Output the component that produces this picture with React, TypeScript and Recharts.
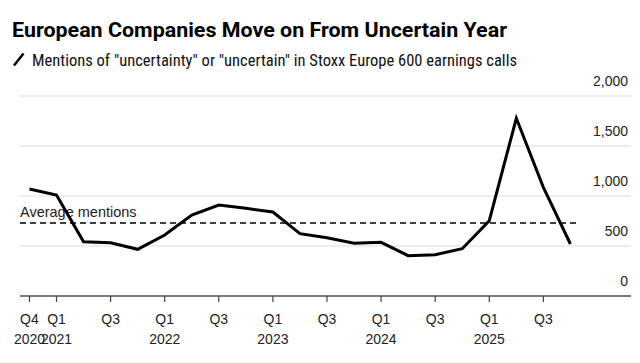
import { LineChart, Line, XAxis, YAxis, CartesianGrid, ReferenceLine } from 'recharts';

const QUARTERS = [
  'Q4 2020', 'Q1 2021', 'Q2 2021', 'Q3 2021', 'Q4 2021',
  'Q1 2022', 'Q2 2022', 'Q3 2022', 'Q4 2022',
  'Q1 2023', 'Q2 2023', 'Q3 2023', 'Q4 2023',
  'Q1 2024', 'Q2 2024', 'Q3 2024', 'Q4 2024',
  'Q1 2025', 'Q2 2025', 'Q3 2025', 'Q4 2025',
];
const MENTIONS = [
  1070, 1010, 543, 533, 467,
  610, 810, 910, 877,
  840, 623, 583, 527,
  537, 403, 413, 473,
  753, 1777, 1087, 520,
];
const AVERAGE = 730;
const Y_TICKS = [0, 500, 1000, 1500, 2000];
const X_TICKS = [0, 1, 3, 5, 7, 9, 11, 13, 15, 17, 19];

const data = QUARTERS.map((q, i) => ({ i, q, value: MENTIONS[i] }));

const FONT = '"Liberation Sans", Arial, sans-serif';
const NARROW = '"Liberation Sans Narrow", "Roboto Condensed", "Liberation Sans", Arial, sans-serif';

function XTick({ x, y, payload }: any) {
  const [q, yr] = QUARTERS[payload.value].split(' ');
  const showYear = q === 'Q1' || payload.value === 0;
  return (
    <g>
      <text x={x} y={y + 20} textAnchor="middle" fontSize={14} fill="#222" fontFamily={FONT}>{q}</text>
      {showYear && (
        <text x={x} y={y + 40} textAnchor="middle" fontSize={14} fill="#222" fontFamily={FONT}>{yr}</text>
      )}
    </g>
  );
}

function YTick({ x, y, payload }: any) {
  return (
    <text x={x - 3} y={y - 10} textAnchor="end" fontSize={14} fill="#222" fontFamily={FONT}>
      {payload.value.toLocaleString('en-US')}
    </text>
  );
}

function AvgLabel({ viewBox }: any) {
  return (
    <text x={viewBox.x} y={viewBox.y - 6} fontSize={14.5} fill="#222" fontFamily={FONT}>Average mentions</text>
  );
}

export default function App() {
  return (
    <div style={{ position: 'absolute', left: 0, top: 0, width: 640, height: 363, background: '#fff' }}>
      <div style={{ position: 'absolute', left: 0, top: 0 }}>
        <LineChart width={640} height={363} data={data} margin={{ top: 96, right: 0, bottom: 27, left: 20 }}>
          <CartesianGrid vertical={false} stroke="#dcdcdc" strokeWidth={1} />
          <XAxis
            dataKey="i"
            type="number"
            domain={[-0.35, 22.24]}
            ticks={X_TICKS}
            interval={0}
            height={40}
            tick={<XTick />}
            tickLine={{ stroke: '#444', strokeWidth: 1.2 }}
            axisLine={{ stroke: '#555', strokeWidth: 1.5 }}
            tickSize={6}
            allowDataOverflow
          />
          <YAxis
            orientation="right"
            width={9}
            domain={[0, 2000]}
            ticks={Y_TICKS}
            axisLine={false}
            tickLine={false}
            tickSize={0}
            tickMargin={0}
            tick={<YTick />}
            interval={0}
          />
          <ReferenceLine
            segment={[{ x: -0.35, y: AVERAGE }, { x: 20.24, y: AVERAGE }]}
            stroke="#000"
            strokeWidth={1.5}
            strokeDasharray="6 4"
            label={<AvgLabel />}
          />
          <Line
            type="linear"
            dataKey="value"
            stroke="#000"
            strokeWidth={3}
            dot={false}
            isAnimationActive={false}
          />
        </LineChart>
      </div>
      <svg width={640} height={80} style={{ position: 'absolute', left: 0, top: 0 }}>
        <text x={12} y={37} fontFamily="Roboto, Arial, sans-serif" fontWeight={700} fontSize={21} fill="#000" textLength={495} lengthAdjust="spacingAndGlyphs">
          European Companies Move on From Uncertain Year
        </text>
        <line x1={14} y1={65.5} x2={23.5} y2={53.5} stroke="#000" strokeWidth={2.5} />
        <text x={32} y={66} fontFamily={NARROW} fontSize={16.5} fill="#111" textLength={485} lengthAdjust="spacingAndGlyphs">
          Mentions of "uncertainty" or "uncertain" in Stoxx Europe 600 earnings calls
        </text>
      </svg>
    </div>
  );
}
